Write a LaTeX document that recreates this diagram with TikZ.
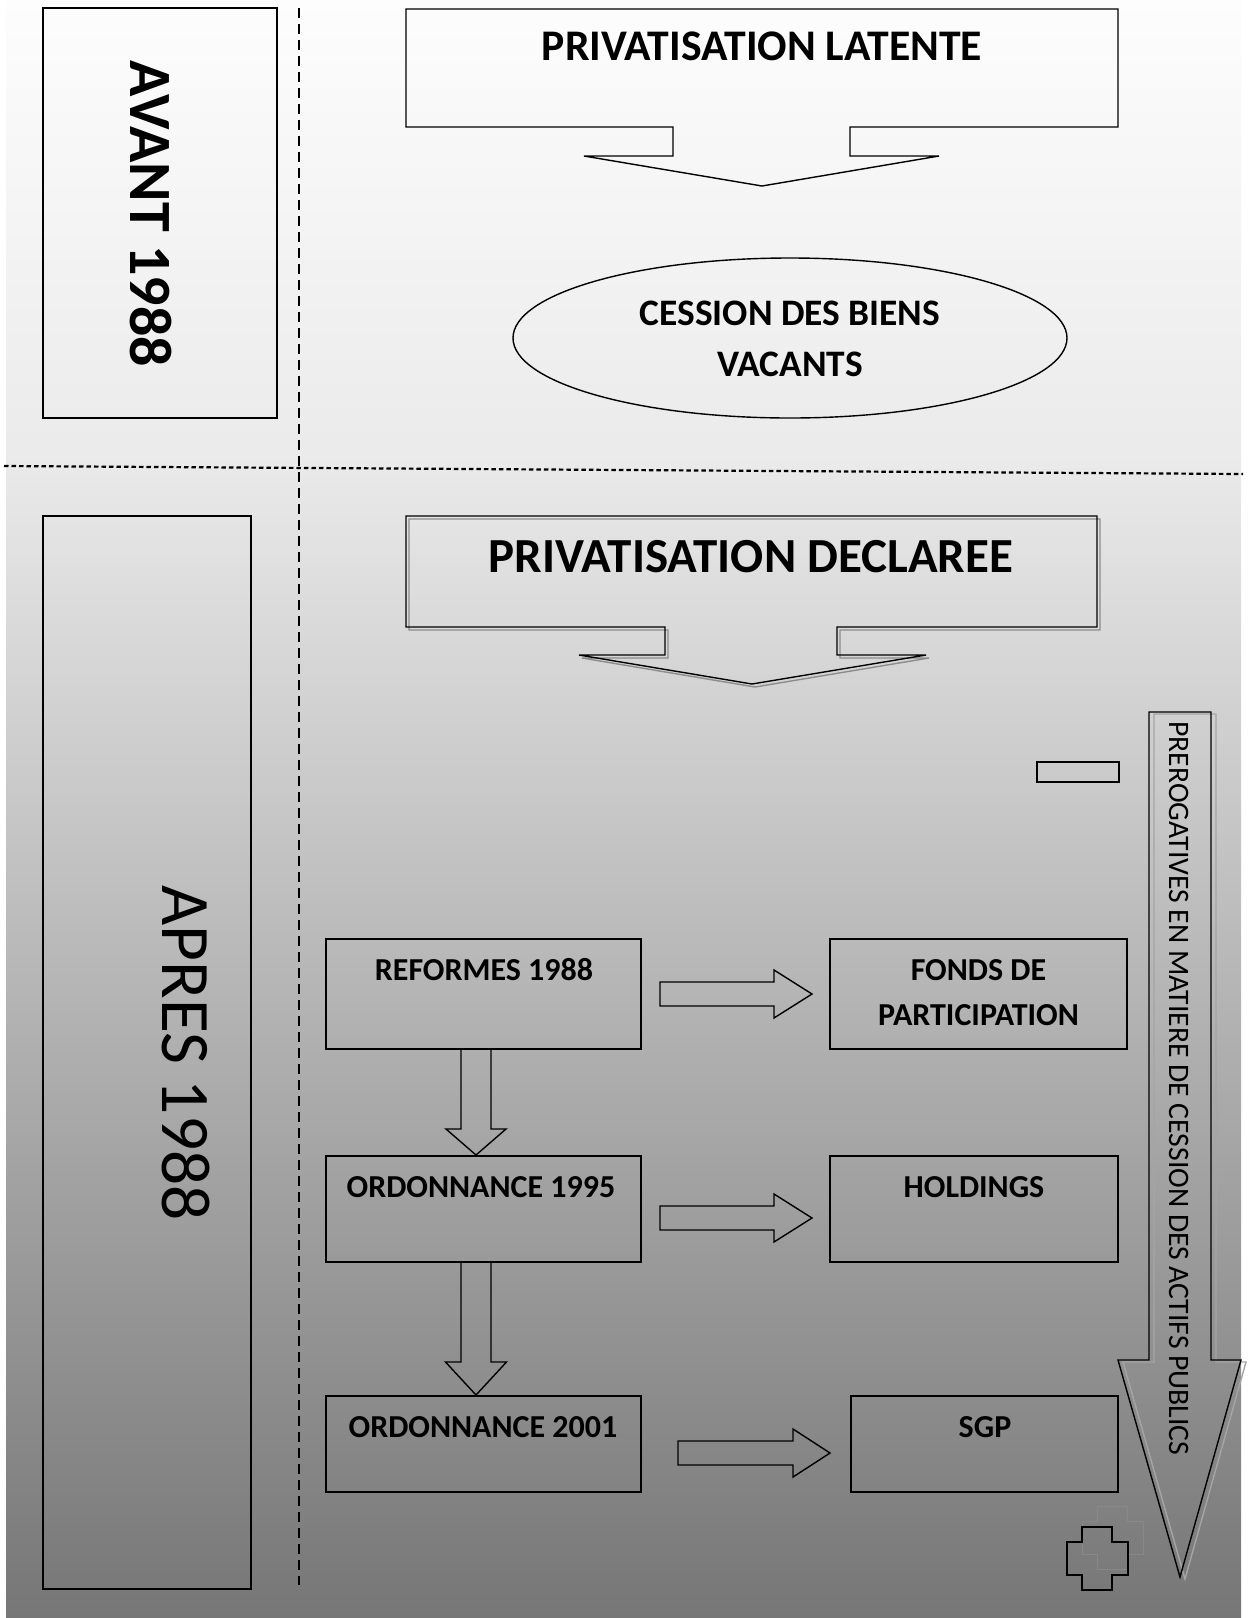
\documentclass[tikz,border=0pt]{standalone}
\usepackage{fontspec}
\setmainfont{Carlito}
\usetikzlibrary{calc}
\definecolor{bgtop}{RGB}{253,253,253}
\definecolor{bgmid}{RGB}{234,234,234}
\definecolor{bgmidb}{RGB}{233,233,233}
\definecolor{bgbot}{RGB}{118,118,118}
\definecolor{shadA}{RGB}{140,140,140}
\definecolor{shadB}{RGB}{165,165,165}
\definecolor{ghost}{RGB}{136,136,136}
\newcommand{\rblk}[5]{%
  \draw[outl] let \p1=(#1), \p2=(#2) in
    (\x1,\y1+#3pt) -- (\x2-#5pt,\y1+#3pt) -- (\x2-#5pt,\y1+#4pt) -- (\x2,\y1)
    -- (\x2-#5pt,\y1-#4pt) -- (\x2-#5pt,\y1-#3pt) -- (\x1,\y1-#3pt) -- cycle;}
\newcommand{\dblk}[5]{%
  \draw[outl] let \p1=(#1), \p2=(#2) in
    (\x1-#3pt,\y1) -- (\x1+#3pt,\y1) -- (\x1+#3pt,\y2+#5pt) -- (\x1+#4pt,\y2+#5pt)
    -- (\x1,\y2) -- (\x1-#4pt,\y2+#5pt) -- (\x1-#3pt,\y2+#5pt) -- cycle;}
\begin{document}
\begin{tikzpicture}[x=1pt,y=-1pt,line join=miter,
  outl/.style={draw=black,line width=1.4pt},
  box/.style={outl,rectangle,inner sep=0pt,outer sep=0pt},
  lbl/.style={font=\bfseries\fontsize{32}{45}\selectfont,inner sep=0pt,align=center},
  ]
\useasboundingbox (0,0) rectangle (1253,1618);
% background
\shade[top color=bgtop,bottom color=bgmid] (6,0) rectangle (1241,470);
\shade[top color=bgmidb,bottom color=bgbot] (6,469.5) rectangle (1241,1618);
% dividers
\draw[line width=1.5pt,dash pattern=on 10pt off 6pt] (299,8) -- (299,1585);
\draw[line width=2.2pt,dash pattern=on 4.5pt off 3pt] (4,466) -- (1243,474);
% left boxes
\node[box,anchor=north west,minimum width=234pt,minimum height=410pt] (avant) at (43,8) {};
\node[font=\bfseries\fontsize{60}{62}\selectfont,inner sep=0pt,rotate=-90] (avantt) at (151,214) {AVANT 1988};
\node[box,anchor=north west,minimum width=208pt,minimum height=1073pt] (apres) at (43,516) {};
\node[font=\fontsize{69.5}{72}\selectfont,inner sep=0pt,rotate=-90] (apress) at (186,1053) {APRES 1988};
% callout latente
\draw[outl] (406,9) -- (1118,9) -- (1118,127) -- (850,127) -- (850,156) -- (939,156)
  -- (762,186) -- (584,156) -- (673,156) -- (673,127) -- (406,127) -- cycle;
\node[font=\bfseries\fontsize{43.7}{48}\selectfont,inner sep=0pt] (latente) at (762,46.5) {PRIVATISATION LATENTE};
% ellipse
\draw[outl] (790,338) ellipse [x radius=277,y radius=80];
\node[font=\bfseries\fontsize{37.4}{51}\selectfont,inner sep=0pt,align=center] (cession) at (790,338.5) {CESSION DES BIENS\\VACANTS};
% callout declaree (shadow + shape)
\begin{scope}[shift={(3,3)}]
\draw[draw=shadA,line width=1.4pt] (406,516) -- (1097,516) -- (1097,627) -- (837,627) -- (837,655) -- (926,655)
  -- (752,684) -- (579,655) -- (665,655) -- (665,627) -- (406,627) -- cycle;
\end{scope}
\draw[outl] (406,516) -- (1097,516) -- (1097,627) -- (837,627) -- (837,655) -- (926,655)
  -- (752,684) -- (579,655) -- (665,655) -- (665,627) -- (406,627) -- cycle;
\node[font=\bfseries\fontsize{49}{52}\selectfont,inner sep=0pt] (declaree) at (751,557) {PRIVATISATION DECLAREE};
% prerogatives arrow
\begin{scope}[shift={(5,2)}]
\draw[draw=shadB,line width=1.4pt] (1149,712) -- (1211,712) -- (1211,1360) -- (1241,1360) -- (1180,1577)
  -- (1118,1360) -- (1149,1360) -- cycle;
\end{scope}
\draw[outl] (1149,712) -- (1211,712) -- (1211,1360) -- (1241,1360) -- (1180,1577)
  -- (1118,1360) -- (1149,1360) -- cycle;
\node[font=\fontsize{29.7}{31}\selectfont,inner sep=0pt,rotate=-90] (prerog) at (1179,1088.5) {PREROGATIVES EN MATIERE DE CESSION DES ACTIFS PUBLICS};
% small bar
\node[box,anchor=north west,minimum width=82pt,minimum height=20pt] (bar) at (1037,762) {};
% cross (ghost + shape)
\begin{scope}[shift={(15,-21)}]
\draw[draw=ghost,line width=1pt] (1082,1527) -- (1112,1527) -- (1112,1542) -- (1128,1542) -- (1128,1575) -- (1112,1575)
  -- (1112,1590) -- (1082,1590) -- (1082,1575) -- (1067,1575) -- (1067,1542) -- (1082,1542) -- cycle;
\end{scope}
\draw[outl] (1082,1527) -- (1112,1527) -- (1112,1542) -- (1128,1542) -- (1128,1575) -- (1112,1575)
  -- (1112,1590) -- (1082,1590) -- (1082,1575) -- (1067,1575) -- (1067,1542) -- (1082,1542) -- cycle;
% boxes
\node[box,minimum width=315pt,minimum height=110pt] (ref) at (483.5,994) {};
\node[box,minimum width=315pt,minimum height=106pt] (ord95) at (483.5,1209) {};
\node[box,minimum width=315pt,minimum height=96pt] (ord01) at (483.5,1444) {};
\node[box,minimum width=297pt,minimum height=110pt] (fonds) at (978.5,994) {};
\node[box,minimum width=288pt,minimum height=106pt] (hold) at (974,1209) {};
\node[box,minimum width=267pt,minimum height=96pt] (sgp) at (984.5,1444) {};
% box labels
\node[lbl] (reft) at ($(ref.north)+(0.5,31)$) {REFORMES 1988};
\node[lbl] (ord95t) at ($(ord95.north)+(-2.5,31)$) {ORDONNANCE 1995};
\node[lbl] (ord01t) at ($(ord01.north)+(-0.5,31)$) {ORDONNANCE 2001};
\node[lbl] (fondst) at ($(fonds.north)+(0,53.5)$) {FONDS DE\\PARTICIPATION};
\node[lbl] (holdt) at ($(hold.north)+(0,31)$) {HOLDINGS};
\node[lbl] (sgpt) at ($(sgp.north)+(0.5,31)$) {SGP};
% block arrows
\dblk{$(ref.south)+(-7.5,0)$}{$(ord95.north)+(-7.5,-1)$}{15}{30}{26}
\dblk{$(ord95.south)+(-7.5,0)$}{$(ord01.north)+(-7.5,-1)$}{15}{30.5}{33}
\rblk{$(ref.east)+(19,0)$}{$(fonds.west)+(-18,0)$}{12}{24}{38}
\rblk{$(ord95.east)+(19,9)$}{$(hold.west)+(-18,9)$}{12}{24}{38}
\rblk{$(ord01.east)+(37,9)$}{$(sgp.west)+(-21,9)$}{12}{24}{37}
\end{tikzpicture}
\end{document}
